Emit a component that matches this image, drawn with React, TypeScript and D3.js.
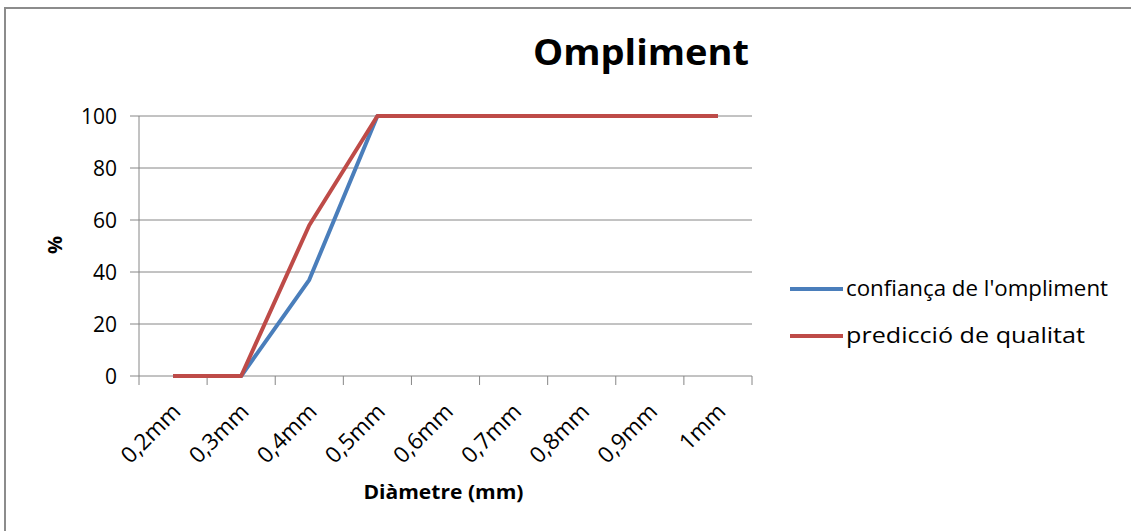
import React from "react";
import * as d3 from "d3";

const categories = ["0,2mm", "0,3mm", "0,4mm", "0,5mm", "0,6mm", "0,7mm", "0,8mm", "0,9mm", "1mm"];
const confiancaValues = [0, 0, 37, 100, 100, 100, 100, 100, 100];
const prediccioValues = [0, 0, 58, 100, 100, 100, 100, 100, 100];
const yTicks = [0, 20, 40, 60, 80, 100];
const seriesNames = ["confiança de l'ompliment", "predicció de qualitat"];
const seriesColors = ["#4A7EBB", "#BE4B48"];
const title = "Ompliment";
const xTitle = "Diàmetre (mm)";
const yTitle = "%";

const W = 1131;
const H = 531;
const plot = { left: 139, right: 752, top: 116, bottom: 376 };
const FONT = "'Open Sans', sans-serif";
const legendTextWidths = [262, 239];

export default function App() {
  const x = d3.scaleBand<string>().domain(categories).range([plot.left, plot.right]).padding(0);
  const y = d3.scaleLinear().domain([0, 100]).range([plot.bottom, plot.top]);
  const cx = (c: string) => (x(c) as number) + x.bandwidth() / 2;

  const line = d3
    .line<number>()
    .x((_, i) => cx(categories[i]))
    .y((d) => y(d));

  const series = [confiancaValues, prediccioValues];
  const boundaries = categories.map((c) => x(c) as number).concat([plot.right]);
  const axisColor = "#868686";

  return (
    <svg
      width={W}
      height={H}
      style={{ position: "absolute", left: 0, top: 0, background: "#fff" }}
    >
      <rect x={0} y={0} width={W} height={H} fill="#fff" />
      <rect x={5} y={8} width={W + 20} height={H + 20} fill="none" stroke="#8c8c8c" strokeWidth={2} />

      <text
        x={641}
        y={65}
        textAnchor="middle"
        fontFamily={FONT}
        fontWeight="bold"
        fontSize={35}
        textLength={216}
        lengthAdjust="spacingAndGlyphs"
        fill="#000"
      >
        {title}
      </text>

      {yTicks.map((t) => (
        <g key={t}>
          <line x1={plot.left - 9} x2={plot.right} y1={y(t)} y2={y(t)} stroke={axisColor} strokeWidth={1} />
          <text
            x={plot.left - 22}
            y={y(t)}
            dy="0.36em"
            textAnchor="end"
            fontFamily={FONT}
            fontSize={21}
            fill="#000"
          >
            {t}
          </text>
        </g>
      ))}

      <line x1={plot.left} x2={plot.left} y1={plot.top} y2={plot.bottom} stroke={axisColor} strokeWidth={1} />
      {boundaries.map((b, i) => (
        <line key={i} x1={b} x2={b} y1={plot.bottom} y2={plot.bottom + 9} stroke={axisColor} strokeWidth={1} />
      ))}

      {categories.map((c) => (
        <text
          key={c}
          transform={`translate(${cx(c) + 9},${plot.bottom + 37}) rotate(-45)`}
          textAnchor="end"
          fontFamily={FONT}
          fontSize={22.5}
          fill="#000"
        >
          {c}
        </text>
      ))}

      {series.map((s, i) => (
        <path
          key={i}
          d={line(s) as string}
          fill="none"
          stroke={seriesColors[i]}
          strokeWidth={4}
          strokeLinejoin="round"
        />
      ))}

      <text
        x={(plot.left + plot.right) / 2 - 2}
        y={499}
        textAnchor="middle"
        fontFamily={FONT}
        fontWeight="bold"
        fontSize={20}
        textLength={160}
        lengthAdjust="spacingAndGlyphs"
        fill="#000"
      >
        {xTitle}
      </text>
      <text
        transform={`translate(62,245) rotate(-90)`}
        textAnchor="middle"
        fontFamily={FONT}
        fontWeight="bold"
        fontSize={20}
        fill="#000"
      >
        {yTitle}
      </text>

      {seriesNames.map((n, i) => {
        const ly = 289 + i * 47;
        return (
          <g key={n}>
            <line x1={790} x2={843} y1={ly} y2={ly} stroke={seriesColors[i]} strokeWidth={4} />
            <text
              x={846}
              y={ly}
              dy="0.35em"
              fontFamily={FONT}
              fontSize={21}
              textLength={legendTextWidths[i]}
              lengthAdjust="spacingAndGlyphs"
              fill="#000"
            >
              {n}
            </text>
          </g>
        );
      })}
    </svg>
  );
}
